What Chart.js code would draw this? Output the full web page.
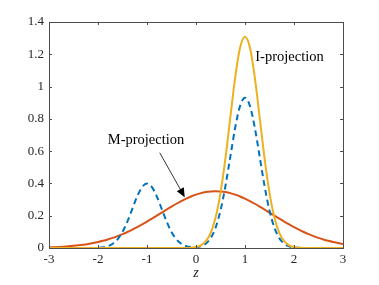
<!DOCTYPE html>
<html>
<head>
<meta charset="utf-8">
<script src="https://cdn.jsdelivr.net/npm/chart.js@4/dist/chart.umd.min.js"></script>
<style>
  html, body { margin: 0; padding: 0; background: #fff; }
  #wrap { width: 379px; height: 285px; position: relative; }
</style>
</head>
<body>
<div id="wrap"><canvas id="c" width="379" height="285"></canvas></div>
<script>
const zs = [-3.0, -2.9, -2.8, -2.7, -2.6, -2.5, -2.4, -2.3, -2.2, -2.1,
  -2.0, -1.9, -1.8, -1.7, -1.6, -1.5, -1.4, -1.3, -1.2, -1.1,
  -1.0, -0.9, -0.8, -0.7, -0.6, -0.5, -0.4, -0.3, -0.2, -0.1,
  0.0, 0.1, 0.2, 0.3, 0.4, 0.5, 0.6, 0.7, 0.8, 0.9,
  1.0, 1.1, 1.2, 1.3, 1.4, 1.5, 1.6, 1.7, 1.8, 1.9,
  2.0, 2.1, 2.2, 2.3, 2.4, 2.5, 2.6, 2.7, 2.8, 2.9, 3.0]

// target density p(z), dashed blue
const pTarget = [0, 0, 0, 0, 0, 0, 0, 0, 0.0001, 0.0005,
  0.0015, 0.0044, 0.0114, 0.0262, 0.0541, 0.0995, 0.164, 0.242, 0.3195, 0.3774,
  0.399, 0.3774, 0.3195, 0.242, 0.164, 0.0995, 0.0541, 0.0262, 0.0114, 0.0055,
  0.0051, 0.0108, 0.0266, 0.0612, 0.126, 0.2322, 0.3827, 0.5647, 0.7455, 0.8806,
  0.931, 0.8806, 0.7455, 0.5647, 0.3827, 0.2322, 0.126, 0.0612, 0.0266, 0.0103,
  0.0036, 0.0011, 0.0003, 0, 0, 0, 0, 0, 0, 0, 0]

// I-projection
const iProj = [0, 0, 0, 0, 0, 0, 0, 0, 0, 0,
  0, 0, 0, 0, 0, 0, 0, 0, 0, 0,
  0, 0, 0, 0, 0, 0, 0, 0.0001, 0.0006, 0.002,
  0.0061, 0.0168, 0.042, 0.0941, 0.189, 0.3416, 0.5543, 0.8075, 1.0565, 1.2414,
  1.308, 1.2414, 1.0565, 0.8075, 0.5543, 0.3416, 0.189, 0.0941, 0.042, 0.0168,
  0.0061, 0.002, 0.0006, 0.0001, 0, 0, 0, 0, 0, 0, 0]

// M-projection
const mProj = [0.0038, 0.005, 0.0064, 0.0082, 0.0105, 0.0132, 0.0165, 0.0204, 0.0251, 0.0306,
  0.0371, 0.0446, 0.0531, 0.0629, 0.0738, 0.0859, 0.0993, 0.1138, 0.1295, 0.1462,
  0.1637, 0.1819, 0.2006, 0.2194, 0.2382, 0.2565, 0.2741, 0.2907, 0.3058, 0.3193,
  0.3307, 0.3398, 0.3465, 0.3506, 0.352, 0.3506, 0.3465, 0.3398, 0.3307, 0.3193,
  0.3058, 0.2907, 0.2741, 0.2565, 0.2382, 0.2194, 0.2006, 0.1819, 0.1637, 0.1462,
  0.1295, 0.1138, 0.0993, 0.0859, 0.0738, 0.0629, 0.0531, 0.0446, 0.0371, 0.0306, 0.0251]

const xTicks = [-3, -2, -1, 0, 1, 2, 3]
const yTicks = [0, 0.2, 0.4, 0.6, 0.8, 1, 1.2, 1.4]
const yTickLabels = ['0', '0.2', '0.4', '0.6', '0.8', '1', '1.2', '1.4']

const serif = '"Liberation Serif", "Times New Roman", serif'
const axisColor = '#262626'

const pts = ys => zs.map((z, i) => ({ x: z, y: ys[i] }))

// box + inward ticks + annotations
const decor = {
  id: 'decor',
  afterDatasetsDraw(chart) {
    const { ctx, chartArea: a, scales: { x, y } } = chart
    ctx.save()
    ctx.strokeStyle = '#4d4d4d'
    ctx.lineWidth = 1
    ctx.strokeRect(Math.round(a.left) + 0.5, Math.round(a.top) + 0.5, Math.round(a.right - a.left), Math.round(a.bottom - a.top))
    ctx.beginPath()
    xTicks.forEach(v => {
      const px = Math.round(x.getPixelForValue(v)) + 0.5
      ctx.moveTo(px, a.bottom); ctx.lineTo(px, a.bottom - 3)
      ctx.moveTo(px, a.top); ctx.lineTo(px, a.top + 3)
    })
    yTicks.forEach(v => {
      const py = Math.round(y.getPixelForValue(v)) + 0.5
      ctx.moveTo(a.left, py); ctx.lineTo(a.left + 3, py)
      ctx.moveTo(a.right, py); ctx.lineTo(a.right - 3, py)
    })
    ctx.stroke()

    ctx.fillStyle = '#000'
    ctx.font = '14.5px ' + serif
    ctx.textBaseline = 'middle'
    ctx.textAlign = 'left'
    ctx.fillText('I-projection', x.getPixelForValue(1.21), y.getPixelForValue(1.18))
    ctx.textAlign = 'center'
    ctx.fillText('M-projection', x.getPixelForValue(-1.02), y.getPixelForValue(0.665))

    // arrow
    const x0 = x.getPixelForValue(-0.74), y0 = y.getPixelForValue(0.59)
    const x1 = x.getPixelForValue(-0.23), y1 = y.getPixelForValue(0.315)
    const ang = Math.atan2(y1 - y0, x1 - x0)
    ctx.strokeStyle = '#000'
    ctx.lineWidth = 0.8
    ctx.beginPath()
    ctx.moveTo(x0, y0)
    ctx.lineTo(x1 - 6 * Math.cos(ang), y1 - 6 * Math.sin(ang))
    ctx.stroke()
    ctx.beginPath()
    ctx.moveTo(x1, y1)
    ctx.lineTo(x1 - 9 * Math.cos(ang) + 4 * Math.sin(ang), y1 - 9 * Math.sin(ang) - 4 * Math.cos(ang))
    ctx.lineTo(x1 - 9 * Math.cos(ang) - 4 * Math.sin(ang), y1 - 9 * Math.sin(ang) + 4 * Math.cos(ang))
    ctx.closePath()
    ctx.fill()
    ctx.restore()
  }
}

new Chart(document.getElementById('c'), {
  type: 'line',
  data: {
    datasets: [
      { label: 'M-projection', data: pts(mProj), borderColor: '#D95319', borderWidth: 2 },
      { label: 'p(z)', data: pts(pTarget), borderColor: '#0072BD', borderWidth: 2, borderDash: [6, 4] },
      { label: 'I-projection', data: pts(iProj), borderColor: '#EDB120', borderWidth: 2 }
    ].map((d, i) => Object.assign(d, { pointRadius: 0, cubicInterpolationMode: 'monotone', fill: false, clip: 4, order: 3 - i }))
  },
  options: {
    responsive: false,
    animation: false,
    events: [],
    layout: { padding: { left: 0, right: 36, top: 22, bottom: 3 } },
    plugins: { legend: { display: false }, tooltip: { enabled: false } },
    scales: {
      x: {
        type: 'linear', min: -3, max: 3,
        afterBuildTicks: s => { s.ticks = xTicks.map(v => ({ value: v })) },
        afterFit: s => { s.height = 34 },
        grid: { display: false, drawTicks: false },
        border: { display: false },
        ticks: { color: axisColor, font: { family: serif, size: 13 }, padding: 4, maxRotation: 0 },
        title: { display: true, text: 'z', color: axisColor, font: { family: serif, size: 14, style: 'italic' }, padding: { top: 0, bottom: 0 } }
      },
      y: {
        type: 'linear', min: 0, max: 1.4,
        afterBuildTicks: s => { s.ticks = yTicks.map(v => ({ value: v })) },
        afterFit: s => { s.width = 49 },
        grid: { display: false, drawTicks: false },
        border: { display: false },
        ticks: { color: axisColor, font: { family: serif, size: 13 }, padding: 5,
          callback: (v, i) => yTickLabels[i] }
      }
    }
  },
  plugins: [decor]
})
</script>
</body>
</html>
